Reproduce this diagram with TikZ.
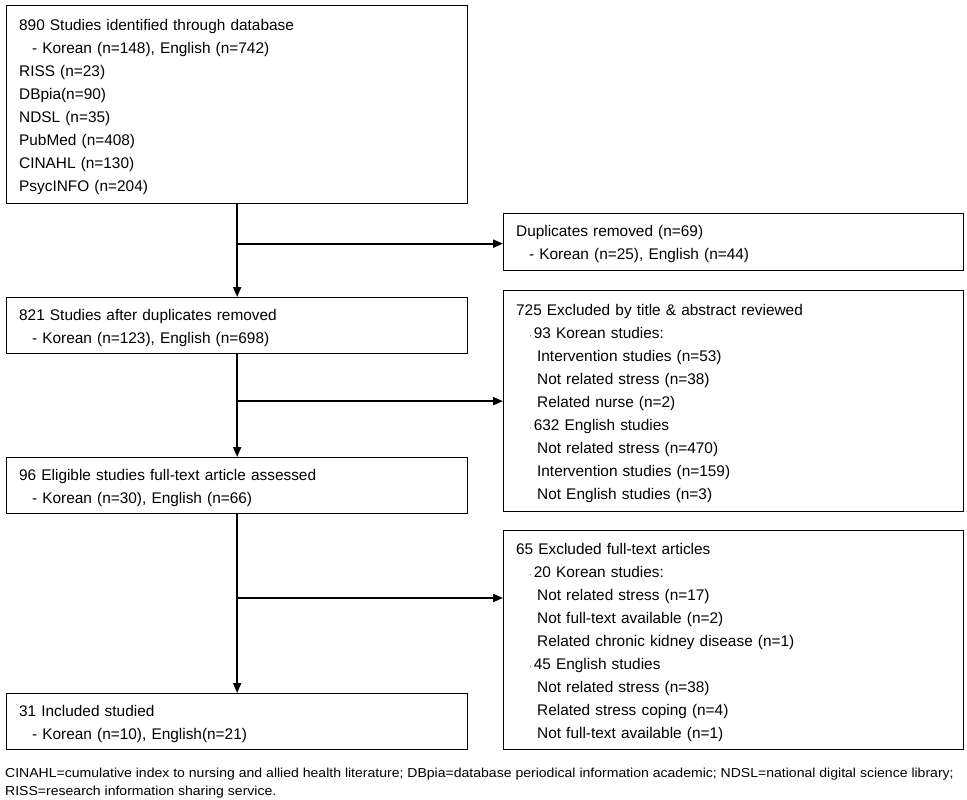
\documentclass[tikz,border=0pt]{standalone}
\usepackage{fontspec}
\setmainfont{Liberation Sans}
\newfontfamily\fnfont{Liberation Sans}[FakeStretch=1.08]
\usetikzlibrary{arrows.meta,positioning}
\begin{document}
\begin{tikzpicture}[x=1pt,y=1pt,
  box/.style={draw, line width=1.3pt, rectangle, anchor=north west, inner xsep=12pt, inner ysep=0pt,
    minimum width=461pt, text width=436pt, align=left, font=\fontsize{15.4}{23}\selectfont,
    execute at begin node={\rule{0pt}{15.2pt}}},
  rbox/.style={box, minimum width=460pt, text width=435pt},
  arr/.style={line width=2pt, -{Triangle[length=10pt,width=8pt]}},
  note/.style={anchor=north west, inner sep=0pt, align=left, font=\fnfont\fontsize{13}{18}\selectfont}]
\useasboundingbox (0,0) rectangle (967,-800);
\node[box, minimum height=198pt] (b1) at (6,-5) {890 Studies identified through database\\
\hspace{13pt}- Korean (n=148), English (n=742)\\
RISS (n=23)\\
DBpia(n=90)\\
NDSL (n=35)\\
PubMed (n=408)\\
CINAHL (n=130)\\
PsycINFO (n=204)};
\node[box, minimum height=56pt] (b2) at (6,-297) {821 Studies after duplicates removed\\
\hspace{13pt}- Korean (n=123), English (n=698)};
\node[box, minimum height=56pt] (b3) at (6,-457) {96 Eligible studies full-text article assessed\\
\hspace{13pt}- Korean (n=30), English (n=66)};
\node[box, minimum height=56pt] (b4) at (6,-693) {31 Included studied\\
\hspace{13pt}- Korean (n=10), English(n=21)};
\node[rbox, minimum height=57pt] (r1) at (503,-213) {Duplicates removed (n=69)\\
\hspace{13pt}- Korean (n=25), English (n=44)};
\node[rbox, minimum height=221pt] (r2) at (503,-290) {725 Excluded by title \& abstract reviewed\\
\hspace{13pt}{\fontsize{8}{8}\selectfont·}\hspace{2pt}93 Korean studies:\\
\hspace{21pt}Intervention studies (n=53)\\
\hspace{21pt}Not related stress (n=38)\\
\hspace{21pt}Related nurse (n=2)\\
\hspace{13pt}{\fontsize{8}{8}\selectfont·}\hspace{2pt}632 English studies\\
\hspace{21pt}Not related stress (n=470)\\
\hspace{21pt}Intervention studies (n=159)\\
\hspace{21pt}Not English studies (n=3)};
\node[rbox, minimum height=219pt] (r3) at (503,-530) {65 Excluded full-text articles\\
\hspace{13pt}{\fontsize{8}{8}\selectfont·}\hspace{2pt}20 Korean studies:\\
\hspace{21pt}Not related stress (n=17)\\
\hspace{21pt}Not full-text available (n=2)\\
\hspace{21pt}Related chronic kidney disease (n=1)\\
\hspace{13pt}{\fontsize{8}{8}\selectfont·}\hspace{2pt}45 English studies\\
\hspace{21pt}Not related stress (n=38)\\
\hspace{21pt}Related stress coping (n=4)\\
\hspace{21pt}Not full-text available (n=1)};
\node[note] (fn) at (5,-768) {CINAHL=cumulative index to nursing and allied health literature; DBpia=database periodical information academic; NDSL=national digital science library;\\
RISS=research information sharing service.};
\coordinate (j1) at ([yshift=-1.5pt]b1.south |- r1.west);
\coordinate (j2) at (b1.south |- r2.west);
\coordinate (j3) at ([yshift=-598pt]b1.south |- 0,0);
\draw[arr] (b1.south) -- (b2.north);
\draw[arr] (b2.south) -- (b3.north);
\draw[arr] (b3.south) -- (b4.north);
\draw[arr] (j1) -- (r1.west |- j1);
\draw[arr] (j2) -- (r2.west);
\draw[arr] (j3) -- (r3.west |- j3);
\end{tikzpicture}
\end{document}
